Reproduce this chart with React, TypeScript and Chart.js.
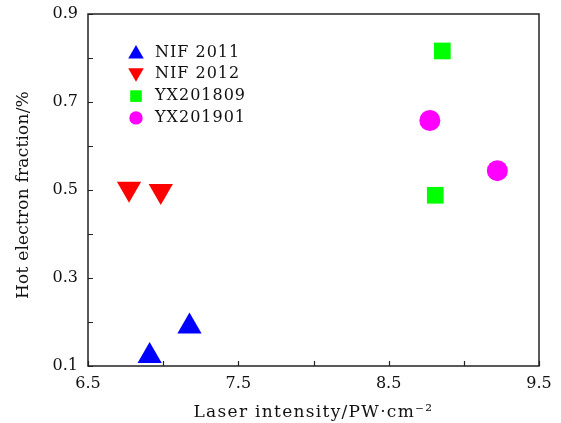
import { useEffect, useRef } from 'react';
import { Chart, registerables } from 'chart.js';

Chart.register(...registerables);

const seriesNames = ['NIF 2011', 'NIF 2012', 'YX201809', 'YX201901'];
const seriesColors = ['#0000ff', '#ff0000', '#00ff00', '#ff00ff'];

const nif2011X = [6.91, 7.175];
const nif2011Y = [0.123, 0.19];
const nif2012X = [6.773, 6.984];
const nif2012Y = [0.503, 0.498];
const yx1809X = [8.857, 8.81];
const yx1809Y = [0.816, 0.488];
const yx1901X = [8.774, 9.223];
const yx1901Y = [0.658, 0.544];

const xTickLabels = ['6.5', '7.5', '8.5', '9.5'];
const yTickLabels = ['0.1', '0.3', '0.5', '0.7', '0.9'];
const xTitle = 'Laser intensity/PW·cm⁻²';
const yTitle = 'Hot electron fraction/%';

const FONT = 'DejaVu Serif';

const pts = (xs: number[], ys: number[]) => xs.map((x, i) => ({ x, y: ys[i] }));

const framePlugin = {
  id: 'frame',
  afterDraw(chart: any) {
    const { ctx, chartArea: a, scales } = chart;
    ctx.save();
    ctx.strokeStyle = '#222';
    ctx.lineWidth = 1.5;
    ctx.strokeRect(a.left, a.top, a.right - a.left, a.bottom - a.top);
    ctx.lineWidth = 1.2;
    ctx.beginPath();
    scales.x.ticks.forEach((t: any) => {
      const px = Math.round(scales.x.getPixelForValue(t.value)) + 0.5;
      ctx.moveTo(px, a.bottom);
      ctx.lineTo(px, a.bottom - 5);
    });
    scales.y.ticks.forEach((t: any) => {
      const py = Math.round(scales.y.getPixelForValue(t.value)) + 0.5;
      ctx.moveTo(a.left, py);
      ctx.lineTo(a.left + 5, py);
    });
    ctx.stroke();

    // axis titles
    ctx.fillStyle = '#111';
    ctx.textAlign = 'center';
    ctx.font = `17px "${FONT}"`;
    (ctx as any).letterSpacing = '1.3px';
    ctx.textBaseline = 'alphabetic';
    ctx.fillText(xTitle, (a.left + a.right) / 2, 417);
    (ctx as any).letterSpacing = '0.2px';
    ctx.translate(24, 195);
    ctx.rotate(-Math.PI / 2);
    ctx.textBaseline = 'middle';
    ctx.fillText(yTitle, 0, 0);
    (ctx as any).letterSpacing = '0px';
    ctx.restore();
  },
};

const legendPlugin = {
  id: 'innerLegend',
  afterDatasetsDraw(chart: any) {
    const { ctx } = chart;
    const mx = 136;
    const tx = 155;
    const y0 = 52.5;
    const dy = 21.8;
    ctx.save();
    ctx.font = `16px "${FONT}"`;
    (ctx as any).letterSpacing = '1px';
    ctx.textBaseline = 'middle';
    ctx.textAlign = 'left';
    chart.data.datasets.forEach((ds: any, i: number) => {
      const y = y0 + i * dy;
      ctx.fillStyle = ds.backgroundColor;
      ctx.beginPath();
      const style = ds.pointStyle;
      if (style === 'triangle') {
        const r = 9;
        const s = ds.pointRotation === 180 ? -1 : 1;
        const cy = y + s * 1.5;
        ctx.moveTo(mx, cy - s * r);
        ctx.lineTo(mx + r * 0.866, cy + s * r * 0.5);
        ctx.lineTo(mx - r * 0.866, cy + s * r * 0.5);
        ctx.closePath();
      } else if (style === 'rect') {
        ctx.rect(mx - 5.8, y - 5.8, 11.6, 11.6);
      } else {
        ctx.arc(mx, y, 6.7, 0, Math.PI * 2);
      }
      ctx.fill();
      ctx.fillStyle = '#111';
      ctx.fillText(ds.label, tx, y);
    });
    (ctx as any).letterSpacing = '0px';
    ctx.restore();
  },
};

const matchLabel = (labels: string[], v: number) =>
  labels.find((l) => Math.abs(parseFloat(l) - v) < 1e-6) ?? '';

export default function App() {
  const ref = useRef<HTMLCanvasElement>(null);
  useEffect(() => {
    if (!ref.current) return;
    const chart = new Chart(ref.current, {
      type: 'scatter',
      data: {
        datasets: [
          {
            label: seriesNames[0],
            data: pts(nif2011X, nif2011Y),
            backgroundColor: seriesColors[0],
            pointStyle: 'triangle',
            pointRadius: 14,
            pointBorderWidth: 0,
          },
          {
            label: seriesNames[1],
            data: pts(nif2012X, nif2012Y),
            backgroundColor: seriesColors[1],
            pointStyle: 'triangle',
            pointRotation: 180,
            pointRadius: 14,
            pointBorderWidth: 0,
          },
          {
            label: seriesNames[2],
            data: pts(yx1809X, yx1809Y),
            backgroundColor: seriesColors[2],
            pointStyle: 'rect',
            pointRadius: 11.8,
            pointBorderWidth: 0,
          },
          {
            label: seriesNames[3],
            data: pts(yx1901X, yx1901Y),
            backgroundColor: seriesColors[3],
            pointStyle: 'circle',
            pointRadius: 10.5,
            pointBorderWidth: 0,
          },
        ] as any,
      },
      options: {
        animation: false,
        responsive: true,
        maintainAspectRatio: false,
        layout: { padding: { left: 0, top: 14, right: 22, bottom: 0 } },
        plugins: { legend: { display: false }, tooltip: { enabled: false } },
        scales: {
          x: {
            type: 'linear',
            min: 6.5,
            max: 9.5,
            grid: { display: false, drawTicks: false },
            border: { display: false },
            ticks: {
              stepSize: 0.5,
              autoSkip: false,
              maxRotation: 0,
              padding: 8,
              color: '#111',
              font: { family: FONT, size: 16 },
              callback: (v: any) => matchLabel(xTickLabels, Number(v)),
            },
            title: { display: false },
            afterFit: (s: any) => {
              s.height = 57;
              s.paddingLeft = 0;
              s.paddingRight = 0;
            },
          },
          y: {
            type: 'linear',
            min: 0.1,
            max: 0.9,
            grid: { display: false, drawTicks: false },
            border: { display: false },
            ticks: {
              stepSize: 0.1,
              autoSkip: false,
              padding: 10,
              color: '#111',
              font: { family: FONT, size: 16 },
              callback: (v: any) => matchLabel(yTickLabels, Number(v)),
            },
            title: { display: false },
            afterFit: (s: any) => {
              s.width = 88;
              s.paddingTop = 0;
              s.paddingBottom = 0;
            },
          },
        },
      } as any,
      plugins: [framePlugin, legendPlugin],
    });
    return () => chart.destroy();
  }, []);
  return (
    <div style={{ position: 'fixed', left: 0, top: 0, width: 561, height: 423, background: '#fff' }}>
      <canvas ref={ref} />
    </div>
  );
}
